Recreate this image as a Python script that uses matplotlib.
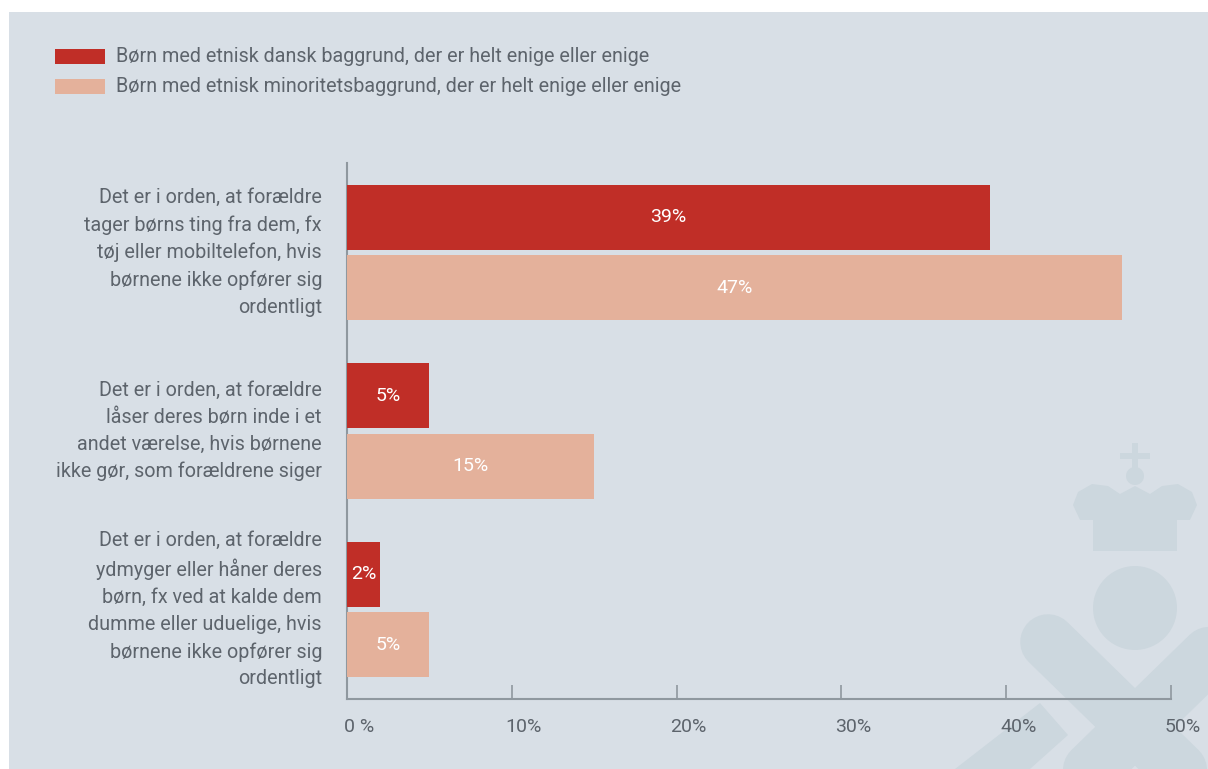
import matplotlib
matplotlib.use("Agg")
import matplotlib.pyplot as plt
from matplotlib.patches import Rectangle, Polygon
from matplotlib.lines import Line2D
import matplotlib.transforms as mtransforms
import numpy as np

plt.rcParams['font.family'] = ['Roboto', 'DejaVu Sans']

categories = [
    "Det er i orden, at forældre\ntager børns ting fra dem, fx\ntøj eller mobiltelefon, hvis\nbørnene ikke opfører sig\nordentligt",
    "Det er i orden, at forældre\nlåser deres børn inde i et\nandet værelse, hvis børnene\nikke gør, som forældrene siger",
    "Det er i orden, at forældre\nydmyger eller håner deres\nbørn, fx ved at kalde dem\ndumme eller uduelige, hvis\nbørnene ikke opfører sig\nordentligt",
]
series_names = [
    "Børn med etnisk dansk baggrund, der er helt enige eller enige",
    "Børn med etnisk minoritetsbaggrund, der er helt enige eller enige",
]
dansk = [39, 5, 2]
minoritet = [47, 15, 5]
xticks = [0, 10, 20, 30, 40, 50]
xticklabels = ["0 %", "10%", "20%", "30%", "40%", "50%"]

BG = "#d8dfe6"
WM = "#ccd7de"
DARK = "#c02e27"
LIGHT = "#e4b19b"
TXT = "#5d646c"
AX = "#8f989f"

W, H = 1208, 769
fig = plt.figure(figsize=(W / 100, H / 100), dpi=100)
fig.patch.set_facecolor("white")


def fx(px):
    return px / W


def fy(py):
    return 1 - py / H


def circle(cx, cy, r):
    return Polygon([(fx(cx + r * np.cos(t)), fy(cy + r * np.sin(t))) for t in np.linspace(0, 2 * np.pi, 80)],
                   transform=fig.transFigure, facecolor=WM, edgecolor="none", zorder=0.5)


def poly(pts):
    return Polygon([(fx(x), fy(y)) for x, y in pts], transform=fig.transFigure,
                   facecolor=WM, edgecolor="none", zorder=0.5)


# background panel
fig.patches.append(Rectangle((fx(9), 0), 1 - fx(9), fy(12), transform=fig.transFigure,
                             facecolor=BG, edgecolor="none", zorder=0))

# watermark (approximate logo)
fig.patches.append(circle(1135, 608, 42))
fig.patches.append(poly([(1093, 518), (1177, 518), (1177, 551), (1093, 551)]))
fig.patches.append(poly([(1073, 505), (1078, 492), (1092, 484), (1108, 486), (1120, 494), (1135, 486),
                         (1150, 494), (1162, 486), (1178, 484), (1192, 492), (1197, 505), (1190, 520),
                         (1080, 520)]))
fig.patches.append(circle(1135, 476, 9))
fig.patches.append(poly([(1132, 443), (1138, 443), (1138, 470), (1132, 470)]))
fig.patches.append(poly([(1120, 453), (1150, 453), (1150, 459), (1120, 459)]))
for (x0, y0), (x1, y1) in [((1048, 642), (1210, 800)), ((1222, 642), (1060, 800))]:
    fig.lines.append(Line2D([fx(x0), fx(x1)], [fy(y0), fy(y1)], transform=fig.transFigure,
                            color=WM, lw=40, solid_capstyle="round", zorder=0.5))
fig.patches.append(poly([(1040, 703), (1068, 735), (1030, 769), (955, 769)]))

# axes
ax = fig.add_axes([fx(347), fy(699), fx(1171) - fx(347), fy(163) - fy(699)])
ax.patch.set_alpha(0)
ax.set_zorder(2)

y = np.arange(len(categories))
h = 0.363
off = 0.197
b1 = ax.barh(y - off, dansk, height=h, color=DARK, zorder=3)
b2 = ax.barh(y + off, minoritet, height=h, color=LIGHT, zorder=3)

for bars, vals in [(b1, dansk), (b2, minoritet)]:
    for bar, v in zip(bars, vals):
        ax.text(bar.get_x() + bar.get_width() / 2, bar.get_y() + bar.get_height() / 2,
                f"{v}%", ha="center", va="center", color="white", fontsize=14)

ax.set_xlim(0, 50)
ax.set_ylim(2.5, -0.5)
ax.set_xticks(xticks)
ax.set_xticklabels(xticklabels, fontsize=14, color=TXT)
ax.tick_params(axis="x", direction="in", length=10, width=1.2, color=AX, pad=14)
shift = mtransforms.ScaledTranslation(12 / 100, 0, fig.dpi_scale_trans)
for lab in ax.get_xticklabels():
    lab.set_transform(lab.get_transform() + shift)
ax.set_yticks(y)
ax.set_yticklabels(categories, fontsize=14.2, color=TXT, linespacing=1.52)
ax.tick_params(axis="y", length=0, pad=18)
yshift = mtransforms.ScaledTranslation(0, 6 / 100, fig.dpi_scale_trans)
for lab in ax.get_yticklabels():
    lab.set_horizontalalignment("right")
    lab.set_transform(lab.get_transform() + yshift)
for s in ["top", "right"]:
    ax.spines[s].set_visible(False)
for s in ["left", "bottom"]:
    ax.spines[s].set_color(AX)
    ax.spines[s].set_linewidth(1.5)

# legend
for i, (name, col) in enumerate(zip(series_names, [DARK, LIGHT])):
    ytop = 49 + i * 30
    fig.patches.append(Rectangle((fx(55), fy(ytop + 15)), fx(105) - fx(55), fy(ytop) - fy(ytop + 15),
                                 transform=fig.transFigure, facecolor=col, edgecolor="none", zorder=3))
    fig.text(fx(116), fy(ytop + 7.5), name, ha="left", va="center", fontsize=14.2, color=TXT)

fig.savefig("out.png", dpi=100, facecolor=fig.get_facecolor())
